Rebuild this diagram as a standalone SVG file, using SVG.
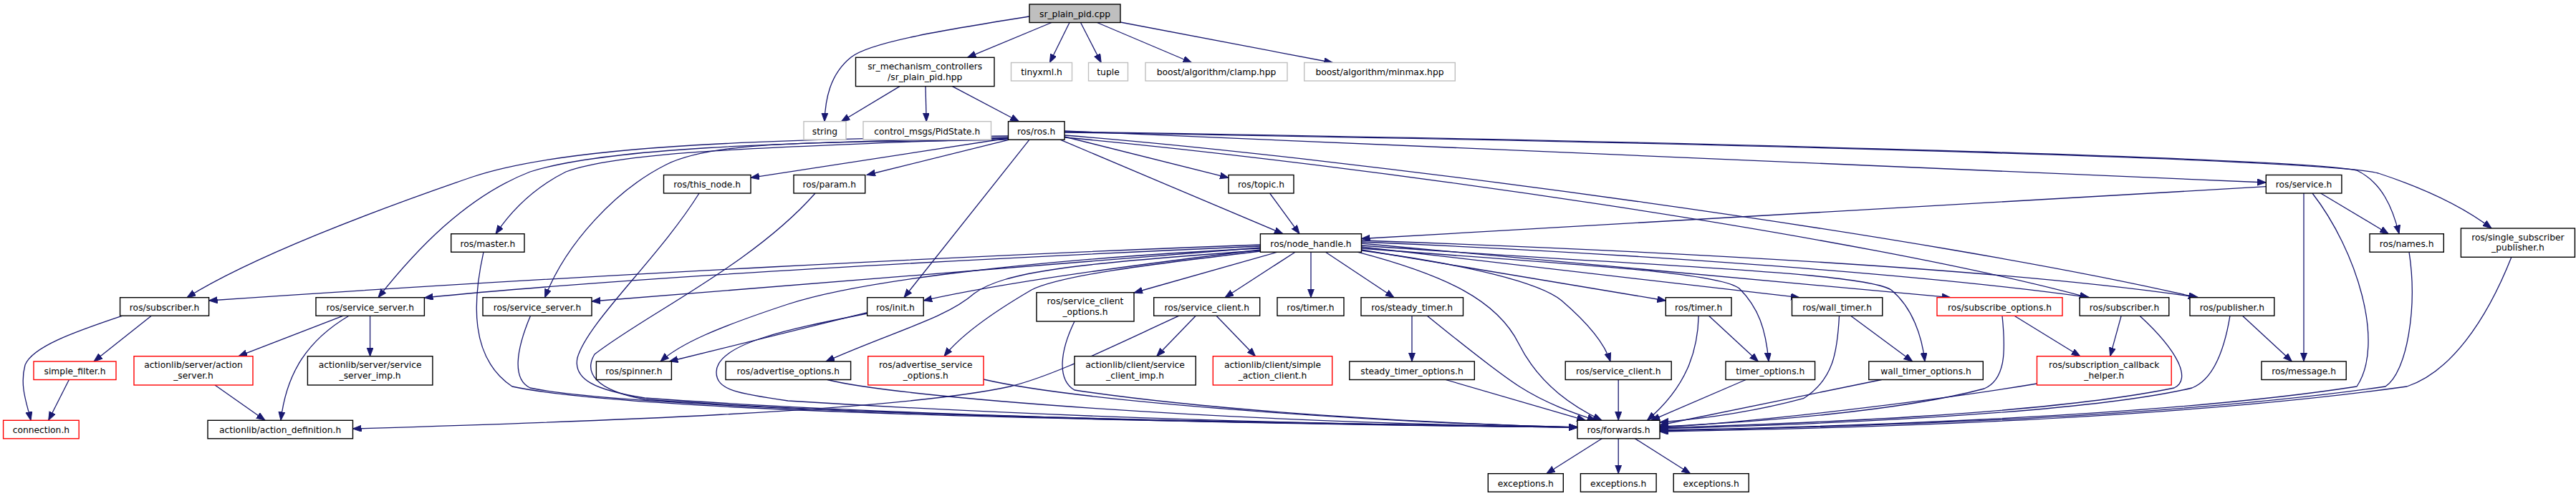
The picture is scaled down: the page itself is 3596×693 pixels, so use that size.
<svg xmlns="http://www.w3.org/2000/svg" width="3596" height="693" viewBox="0 0 3596 693">
<defs>
<marker id="a" markerUnits="userSpaceOnUse" markerWidth="13" markerHeight="10" refX="12" refY="4.5" orient="auto"><path d="M0,0 L12,4.5 L0,9 z" fill="#191970" stroke="#191970" stroke-width="1"/></marker>
</defs>
<style>
.nd rect{fill:#fff;stroke:#000;stroke-width:1.4}
.nd.g rect{stroke:#bfbfbf}
.nd.r rect{stroke:#ff0000}
.nd.root rect{fill:#bfbfbf;stroke:#000}
.nd text{font-family:"DejaVu Sans",sans-serif;font-size:12.3px;text-anchor:middle;fill:#000}
#edges path{fill:none;stroke:#191970;stroke-width:1.3;marker-end:url(#a)}
</style>
<rect x="0" y="0" width="3596" height="693" fill="#fff"/>
<g id="edges">
<path d="M1437,23 C1330,40 1215,58 1188,80 C1158,104 1152,140 1151,169.7"/>
<path d="M1468,31.5 L1350.6,80.3"/>
<path d="M1493,31.5 L1465.4,87.5"/>
<path d="M1508.5,31.5 L1537.2,87.5"/>
<path d="M1531.5,31.5 L1663.5,87.5"/>
<path d="M1564,31 L1860.3,87.5"/>
<path d="M1256,120.6 L1174.4,169.7"/>
<path d="M1292,120.6 L1293.2,169.7"/>
<path d="M1329.4,120.6 L1422.4,169.7"/>
<path d="M1407.5,193 L1048,248.3"/>
<path d="M1409,195.2 L1210,244.5"/>
<path d="M1437,195.2 L1262,415.7"/>
<path d="M1486,191 L1715,248.3"/>
<path d="M1480,195.2 L1791,326.7"/>
<path d="M1772.6,270 L1814,326.7"/>
<path d="M1486,183 L3163.3,255"/>
<path d="M1486,184 C2400,198 3220,222 3290,238 C3325,255 3340,290 3349,326.7"/>
<path d="M1486,185 C2400,199 3250,223 3320,242 C3390,265 3440,290 3478,319"/>
<path d="M1486,189 C1900,222 2700,330 3067,415.7"/>
<path d="M1486,192 C1900,230 2600,330 2915,415.7"/>
<path d="M1407.5,190 C1100,195 800,200 660,247 C520,295 350,360 261,415.7"/>
<path d="M1407.5,192 C1100,200 850,205 740,240 C650,275 580,350 528,415.7"/>
<path d="M1407.5,193 C1100,205 870,210 790,240 C740,265 710,300 692,326.7"/>
<path d="M1407.5,195 C1150,200 1000,195 930,230 C860,265 790,340 760.6,415.7"/>
<path d="M3163.3,260.7 L1900.5,333.5"/>
<path d="M3239.6,270 L3334.3,326.7"/>
<path d="M3216,270 L3216,505"/>
<path d="M3228,270 C3290,350 3330,480 3290,540 C3000,585 2500,598 2317,601"/>
<path d="M1759.4,342 C1400,355 800,385 291.6,420"/>
<path d="M1759.4,344 C1400,360 900,385 592.4,416"/>
<path d="M1759.4,346 L826,421"/>
<path d="M1759.4,347 C1450,362 1200,392 1100,425 C1000,458 950,480 922,505"/>
<path d="M1759.4,349 C1600,368 1400,395 1289.2,420"/>
<path d="M1759.4,351 C1600,370 1480,385 1440,405 C1380,440 1340,470 1318,497.7"/>
<path d="M1759.4,350 C1500,368 1400,380 1360,410 C1320,445 1250,462 1153,505"/>
<path d="M1783,352.2 L1583,409"/>
<path d="M1808,352.2 L1710,415.7"/>
<path d="M1830,352.2 L1830,415.7"/>
<path d="M1850.5,352.2 L1946,415.7"/>
<path d="M1895,352.2 C2020,385 2090,420 2120,480 C2150,540 2200,570 2236,587.3"/>
<path d="M1900.5,350 C2050,370 2150,395 2180,420 C2215,450 2240,480 2248,505"/>
<path d="M1900.5,349 L2325.3,420"/>
<path d="M1900.5,347 C2200,370 2400,380 2428,403 C2455,430 2465,460 2469,505"/>
<path d="M1900.5,345 L2512,415.7"/>
<path d="M1900.5,343 C2300,372 2600,380 2640,405 C2670,430 2683,470 2687,505"/>
<path d="M1900.5,340 L2723,415.7"/>
<path d="M1900.5,338 C2300,355 2700,385 2917,415.7"/>
<path d="M1900.5,336 C2300,350 2800,375 3069,415.7"/>
<path d="M211.3,441.2 L131,505"/>
<path d="M171,441.2 C100,465 45,485 35,510 C27,540 38,565 43,587.3"/>
<path d="M96.4,530.5 L67.7,587.3"/>
<path d="M479.3,441.2 L333,497.7"/>
<path d="M487,441.2 C430,475 400,520 392,587.3"/>
<path d="M516.6,441.2 L516.6,497.7"/>
<path d="M300,538 L370,587.3"/>
<path d="M1646,441.2 C1540,490 1470,525 1410,540 C1250,575 800,590 492.5,599"/>
<path d="M1669.2,441.2 L1614.7,497.7"/>
<path d="M1698,441.2 L1752.5,497.7"/>
<path d="M1210.6,436.7 L934.4,505"/>
<path d="M675,352.2 C660,420 655,500 715,540 C900,580 1700,590 2202,597"/>
<path d="M976,270 C920,360 820,450 806,500 C800,530 830,545 900,556 C1300,585 1900,594 2202,597"/>
<path d="M1138,270 C1050,370 900,440 830,495 C815,520 830,545 900,558 C1300,586 1900,594 2202,597"/>
<path d="M740.5,441.2 C720,490 715,530 740,542 C900,575 1700,590 2202,597"/>
<path d="M1210.6,438 C1100,460 1000,480 1000,520 C1000,545 1030,550 1100,560 C1500,585 1900,594 2202,597"/>
<path d="M1155,530.5 C1250,555 1700,590 2202,597"/>
<path d="M1373,530 C1500,560 1900,590 2202,597"/>
<path d="M1500,449 C1480,490 1475,530 1500,545 C1700,575 2000,592 2202,597"/>
<path d="M1971,441.2 L1971,505"/>
<path d="M1992.3,441.2 C2040,480 2090,520 2121,540 C2160,565 2200,578 2227.7,587.3"/>
<path d="M2018,530.5 L2213.3,587.3"/>
<path d="M2259.2,530.5 L2259.2,587.3"/>
<path d="M2385.5,441.2 L2454.4,505"/>
<path d="M2371.2,441.2 C2370,490 2355,540 2299.4,587.3"/>
<path d="M2437.2,530.5 L2305.2,587.3"/>
<path d="M2583.6,441.2 L2669.7,505"/>
<path d="M2567.5,441.2 C2565,490 2560,530 2517.6,556.7 C2450,575 2380,585 2317,590"/>
<path d="M2626.6,530.5 L2317,594"/>
<path d="M2812,441.2 L2903.8,497.7"/>
<path d="M2961.2,441.2 L2945.7,497.7"/>
<path d="M3130.5,441.2 L3199.4,505"/>
<path d="M2795,441.2 C2800,490 2800,530 2770,543 C2650,575 2450,590 2317,596"/>
<path d="M2843.5,536 C2700,560 2450,590 2317,597"/>
<path d="M2987,441.2 C3040,490 3060,530 3035,542 C2850,580 2500,592 2317,598"/>
<path d="M3113,441.2 C3105,490 3090,530 3060,542 C2900,580 2500,594 2317,599"/>
<path d="M3363,352.2 C3375,430 3360,520 3330,540 C3000,588 2500,598 2317,602"/>
<path d="M3506,359 C3470,450 3420,520 3360,540 C3000,590 2500,600 2317,603"/>
<path d="M2236.3,612.7 L2158.8,661.7"/>
<path d="M2259.2,612.7 L2259.2,661.7"/>
<path d="M2282.2,612.7 L2359.7,661.7"/>
</g>
<g id="n0" class="nd root"><rect x="1437" y="6" width="127" height="25.5"/><text x="1500.5" y="23.8">sr_plain_pid.cpp</text></g>
<g id="n1" class="nd"><rect x="1194.5" y="80.3" width="193.5" height="40.3"/><text x="1291.2" y="96.9">sr_mechanism_controllers</text><text x="1291.2" y="111.6">/sr_plain_pid.hpp</text></g>
<g id="n2" class="nd g"><rect x="1411.5" y="87.5" width="85" height="25.5"/><text x="1454" y="105.3">tinyxml.h</text></g>
<g id="n3" class="nd g"><rect x="1519.5" y="87.5" width="55" height="25.5"/><text x="1547" y="105.3">tuple</text></g>
<g id="n4" class="nd g"><rect x="1599" y="87.5" width="198" height="25.5"/><text x="1698" y="105.3">boost/algorithm/clamp.hpp</text></g>
<g id="n5" class="nd g"><rect x="1820.7" y="87.5" width="210.6" height="25.5"/><text x="1926" y="105.3">boost/algorithm/minmax.hpp</text></g>
<g id="n6" class="nd g"><rect x="1122" y="169.7" width="59" height="25.5"/><text x="1151.5" y="187.5">string</text></g>
<g id="n7" class="nd g"><rect x="1205" y="169.7" width="178.5" height="25.5"/><text x="1294.2" y="187.5">control_msgs/PidState.h</text></g>
<g id="n8" class="nd"><rect x="1407.5" y="169.7" width="78.5" height="25.5"/><text x="1446.7" y="187.5">ros/ros.h</text></g>
<g id="n9" class="nd"><rect x="926.5" y="244.5" width="121.5" height="25.5"/><text x="987.2" y="262.3">ros/this_node.h</text></g>
<g id="n10" class="nd"><rect x="1108" y="244.5" width="99.7" height="25.5"/><text x="1157.8" y="262.3">ros/param.h</text></g>
<g id="n11" class="nd"><rect x="1715" y="244.5" width="91" height="25.5"/><text x="1760.5" y="262.3">ros/topic.h</text></g>
<g id="n12" class="nd"><rect x="3163.3" y="244.5" width="105.6" height="25.5"/><text x="3216.1" y="262.3">ros/service.h</text></g>
<g id="n13" class="nd"><rect x="629.7" y="326.7" width="102.3" height="25.5"/><text x="680.8" y="344.5">ros/master.h</text></g>
<g id="n14" class="nd"><rect x="1759.4" y="326.7" width="141.1" height="25.5"/><text x="1830" y="344.5">ros/node_handle.h</text></g>
<g id="n15" class="nd"><rect x="3308" y="326.7" width="103.3" height="25.5"/><text x="3359.6" y="344.5">ros/names.h</text></g>
<g id="n16" class="nd"><rect x="3435.4" y="319" width="159" height="40.3"/><text x="3514.9" y="335.6">ros/single_subscriber</text><text x="3514.9" y="350.3">_publisher.h</text></g>
<g id="n17" class="nd"><rect x="167.6" y="415.7" width="124" height="25.5"/><text x="229.6" y="433.5">ros/subscriber.h</text></g>
<g id="n18" class="nd"><rect x="441" y="415.7" width="151.4" height="25.5"/><text x="516.7" y="433.5">ros/service_server.h</text></g>
<g id="n19" class="nd"><rect x="674" y="415.7" width="152" height="25.5"/><text x="750" y="433.5">ros/service_server.h</text></g>
<g id="n20" class="nd"><rect x="1210.6" y="415.7" width="78.6" height="25.5"/><text x="1249.9" y="433.5">ros/init.h</text></g>
<g id="n21" class="nd"><rect x="1447" y="408.7" width="136" height="40.3"/><text x="1515" y="425.3">ros/service_client</text><text x="1515" y="440">_options.h</text></g>
<g id="n22" class="nd"><rect x="1610.7" y="415.7" width="148" height="25.5"/><text x="1684.7" y="433.5">ros/service_client.h</text></g>
<g id="n23" class="nd"><rect x="1783" y="415.7" width="93" height="25.5"/><text x="1829.5" y="433.5">ros/timer.h</text></g>
<g id="n24" class="nd"><rect x="1900" y="415.7" width="142.5" height="25.5"/><text x="1971.2" y="433.5">ros/steady_timer.h</text></g>
<g id="n25" class="nd"><rect x="2325.3" y="415.7" width="91.7" height="25.5"/><text x="2371.1" y="433.5">ros/timer.h</text></g>
<g id="n26" class="nd"><rect x="2501.5" y="415.7" width="126.3" height="25.5"/><text x="2564.6" y="433.5">ros/wall_timer.h</text></g>
<g id="n27" class="nd r"><rect x="2704" y="415.7" width="175" height="25.5"/><text x="2791.5" y="433.5">ros/subscribe_options.h</text></g>
<g id="n28" class="nd"><rect x="2903.2" y="415.7" width="124.6" height="25.5"/><text x="2965.5" y="433.5">ros/subscriber.h</text></g>
<g id="n29" class="nd"><rect x="3057" y="415.7" width="117.8" height="25.5"/><text x="3115.9" y="433.5">ros/publisher.h</text></g>
<g id="n30" class="nd r"><rect x="47" y="505" width="115" height="25.5"/><text x="104.5" y="522.8">simple_filter.h</text></g>
<g id="n31" class="nd r"><rect x="187" y="497.7" width="166" height="40.3"/><text x="270" y="514.3">actionlib/server/action</text><text x="270" y="529">_server.h</text></g>
<g id="n32" class="nd"><rect x="429.4" y="497.7" width="174.5" height="40.3"/><text x="516.6" y="514.3">actionlib/server/service</text><text x="516.6" y="529">_server_imp.h</text></g>
<g id="n33" class="nd"><rect x="832.4" y="505" width="105" height="25.5"/><text x="884.9" y="522.8">ros/spinner.h</text></g>
<g id="n34" class="nd"><rect x="1013" y="505" width="174.6" height="25.5"/><text x="1100.3" y="522.8">ros/advertise_options.h</text></g>
<g id="n35" class="nd r"><rect x="1211.7" y="497.7" width="161.3" height="40.3"/><text x="1292.3" y="514.3">ros/advertise_service</text><text x="1292.3" y="529">_options.h</text></g>
<g id="n36" class="nd"><rect x="1500" y="497.7" width="169.2" height="40.3"/><text x="1584.6" y="514.3">actionlib/client/service</text><text x="1584.6" y="529">_client_imp.h</text></g>
<g id="n37" class="nd r"><rect x="1693.3" y="497.7" width="166.4" height="40.3"/><text x="1776.5" y="514.3">actionlib/client/simple</text><text x="1776.5" y="529">_action_client.h</text></g>
<g id="n38" class="nd"><rect x="1883.8" y="505" width="174.5" height="25.5"/><text x="1971" y="522.8">steady_timer_options.h</text></g>
<g id="n39" class="nd"><rect x="2185.2" y="505" width="148" height="25.5"/><text x="2259.2" y="522.8">ros/service_client.h</text></g>
<g id="n40" class="nd"><rect x="2409" y="505" width="124.6" height="25.5"/><text x="2471.3" y="522.8">timer_options.h</text></g>
<g id="n41" class="nd"><rect x="2608.8" y="505" width="159.5" height="25.5"/><text x="2688.5" y="522.8">wall_timer_options.h</text></g>
<g id="n42" class="nd r"><rect x="2843.5" y="497.7" width="187.7" height="40.3"/><text x="2937.3" y="514.3">ros/subscription_callback</text><text x="2937.3" y="529">_helper.h</text></g>
<g id="n43" class="nd"><rect x="3157" y="505" width="118.2" height="25.5"/><text x="3216.1" y="522.8">ros/message.h</text></g>
<g id="n44" class="nd r"><rect x="4.6" y="587.3" width="105.6" height="25.5"/><text x="57.4" y="605.1">connection.h</text></g>
<g id="n45" class="nd"><rect x="290" y="587.3" width="202.5" height="25.5"/><text x="391.2" y="605.1">actionlib/action_definition.h</text></g>
<g id="n46" class="nd"><rect x="2202" y="587.3" width="115" height="25.5"/><text x="2259.5" y="605.1">ros/forwards.h</text></g>
<g id="n47" class="nd"><rect x="2077.3" y="661.7" width="105" height="25.5"/><text x="2129.8" y="679.5">exceptions.h</text></g>
<g id="n48" class="nd"><rect x="2206.4" y="661.7" width="105.7" height="25.5"/><text x="2259.2" y="679.5">exceptions.h</text></g>
<g id="n49" class="nd"><rect x="2336.2" y="661.7" width="105" height="25.5"/><text x="2388.7" y="679.5">exceptions.h</text></g>
</svg>
